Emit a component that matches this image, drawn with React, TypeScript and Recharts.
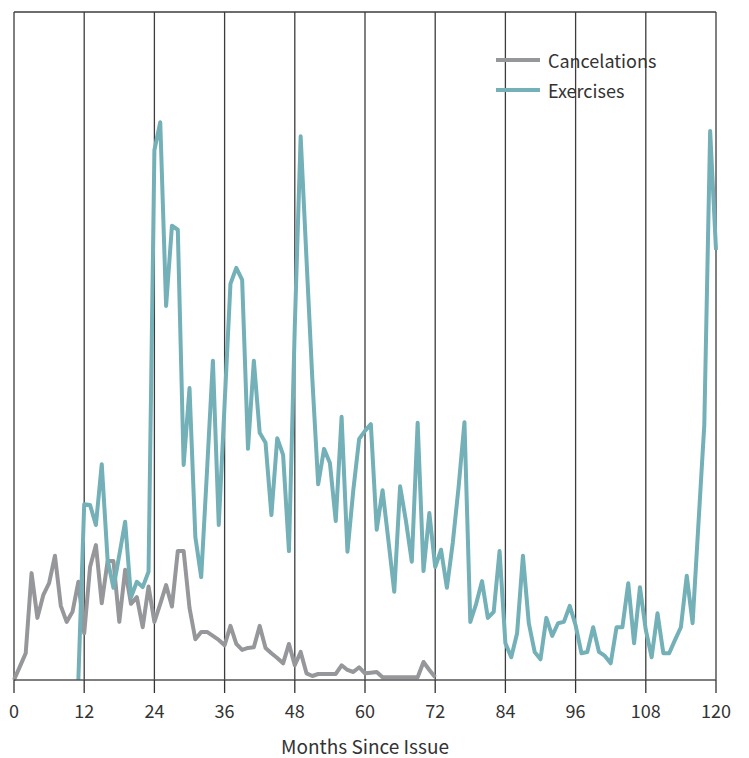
import React from 'react';
import { LineChart, Line, XAxis, YAxis, CartesianGrid, ReferenceLine } from 'recharts';

// monthly values (no y scale shown, 0-100 relative units)
const cancelations: number[] = [
  0, 2, 4, 16, 9.3, 12.7, 14.5, 18.6, 11.1, 8.7,
  10.2, 14.7, 7, 16.9, 20.2, 11.5, 17.8, 17.8, 8.7, 16.5,
  11.4, 12.4, 7.9, 14, 8.7, 11.4, 14.2, 11, 19.3, 19.3,
  10.8, 6.1, 7.2, 7.2, 6.6, 6.0, 5.2, 8.1, 5.4, 4.5,
  4.8, 4.9, 8.1, 4.8, 4.0, 3.3, 2.5, 5.4, 2.2, 4.2,
  1, 0.6, 0.9, 0.9, 0.9, 0.9, 2.2, 1.5, 1.2, 1.9,
  1, 1.1, 1.2, 0.4, 0.4, 0.4, 0.4, 0.4, 0.4, 0.4,
  2.7, 1.5, 0.4,
];

// exercises start at month 11
const exercisesStart = 11;
const exercises: number[] = [
  0, 26.3, 26.2, 23.2, 32.3, 18, 13.8, 18.7, 23.7,
  12.4, 14.7, 13.9, 16.2, 79.3, 83.5, 56, 68, 67.4, 32.2,
  43.7, 21.4, 15.4, 31.4, 47.8, 23.2, 41.3, 59.3, 61.7, 59.9,
  34.6, 47.8, 37, 35.5, 24.7, 36.2, 33.7, 19.3, 53, 81.4,
  63, 45, 29.3, 34.6, 32.5, 23.8, 39.4, 19.2, 28.4, 36.1,
  37.3, 38.3, 22.5, 28.4, 20.9, 13.2, 29, 23.8, 17.7, 38.5,
  16.3, 25, 16.9, 19.5, 13.8, 20.5, 28.9, 38.6, 8.7, 11.4,
  14.8, 9.3, 10.2, 19.3, 5.5, 3.4, 7, 18.6, 8.5, 4.2,
  3.1, 9.3, 6.6, 8.5, 8.7, 11.1, 8.2, 4, 4.2, 7.9,
  4.2, 3.6, 2.5, 7.9, 7.9, 14.5, 5.5, 13.9, 7.5, 3.4,
  10, 4, 4, 6, 7.9, 15.6, 8.5, 23.4, 38.2, 82.2,
  64.4,
];

const monthTicks = [0, 12, 24, 36, 48, 60, 72, 84, 96, 108, 120];

const series = [
  { key: 'cancelations', name: 'Cancelations', color: '#96979a' },
  { key: 'exercises', name: 'Exercises', color: '#73b0b7' },
];

const FONT = '"Noto Sans CJK JP", "Noto Sans", sans-serif';

const data = Array.from({ length: 121 }, (_, m) => ({
  month: m,
  cancelations: m < cancelations.length ? cancelations[m] : null,
  exercises: m >= exercisesStart ? exercises[m - exercisesStart] : null,
}));

const LegendBox = () => (
  <div style={{ position: 'absolute', top: 37, left: 488, fontFamily: FONT, fontSize: 18, color: '#333' }}>
    {series.map((s) => (
      <div key={s.name} style={{ display: 'flex', alignItems: 'center', height: 30 }}>
        <svg width={44} height={6} style={{ marginRight: 8 }}>
          <line x1={0} y1={3} x2={44} y2={3} stroke={s.color} strokeWidth={4} />
        </svg>
        <span>{s.name}</span>
      </div>
    ))}
  </div>
);

export default function App() {
  return (
    <div style={{ position: 'relative', width: 733, height: 750 }}>
      <LineChart width={733} height={750} data={data} margin={{ top: 4, right: 25, bottom: 0, left: 6 }}>
        <CartesianGrid horizontal={false} stroke="#3c3c3c" strokeWidth={1.3} />
        <XAxis
          dataKey="month"
          type="number"
          domain={[0, 120]}
          ticks={monthTicks}
          height={78}
          tickSize={13}
          tickMargin={12}
          axisLine={{ stroke: '#555', strokeWidth: 1.5 }}
          tickLine={{ stroke: '#333', strokeWidth: 1.3 }}
          tick={{ fill: '#333', fontSize: 18, fontFamily: FONT }}
          label={{ value: 'Months Since Issue', position: 'insideBottom', offset: 4, fill: '#333', fontSize: 19, fontFamily: FONT }}
        />
        <YAxis hide domain={[0, 100]} />
        <ReferenceLine y={100} stroke="#3c3c3c" strokeWidth={1.5} />
        {series.map((s) => (
          <Line
            key={s.key}
            type="linear"
            dataKey={s.key}
            name={s.name}
            stroke={s.color}
            strokeWidth={4}
            strokeLinejoin="round"
            dot={false}
            activeDot={false}
            isAnimationActive={false}
          />
        ))}
      </LineChart>
      <LegendBox />
    </div>
  );
}
